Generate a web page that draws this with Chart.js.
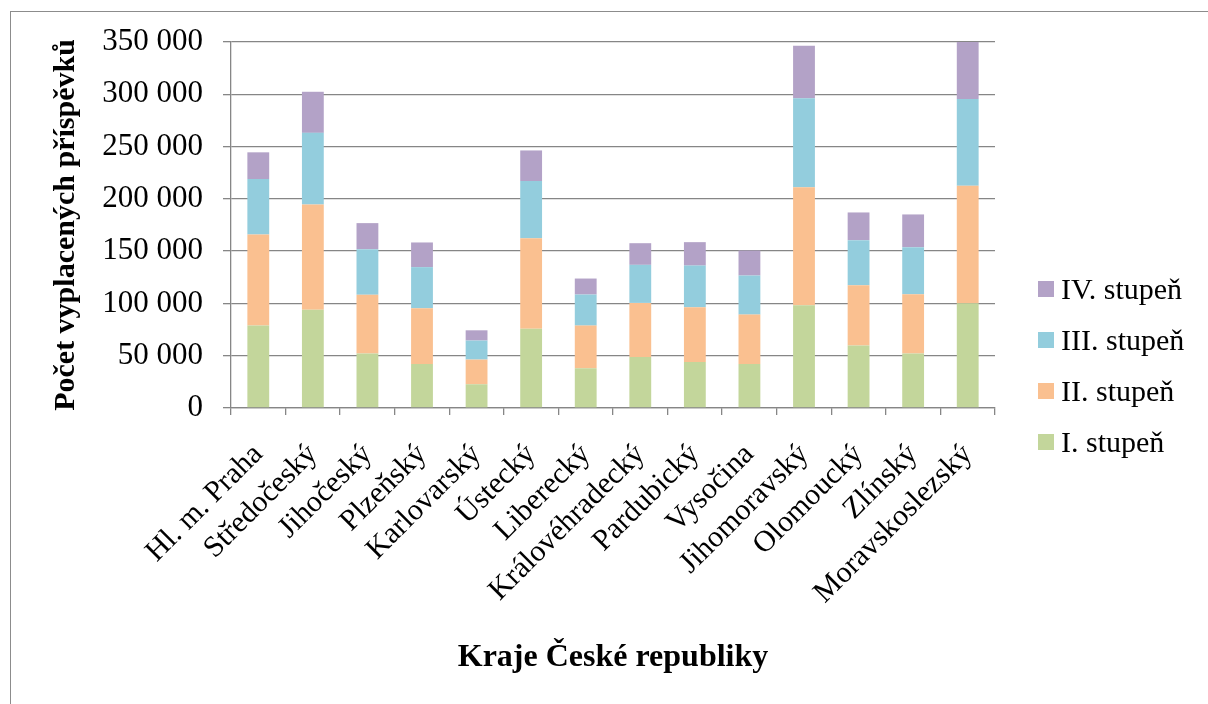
<!DOCTYPE html>
<html>
<head>
<meta charset="utf-8">
<script src="https://cdn.jsdelivr.net/npm/chart.js@4/dist/chart.umd.min.js"></script>
<style>
  html, body { margin: 0; padding: 0; background: #fff; }
  #wrap { position: relative; width: 1208px; height: 704px; overflow: hidden; }
  #frame { position: absolute; left: 10px; top: 11px; width: 1300px; height: 800px; border: 1px solid #8c8c8c; }
  #legend { position: absolute; left: 1038px; top: 263px; margin: 0; padding: 0; list-style: none;
            font-family: 'Times New Roman', 'Liberation Serif', serif; font-size: 30px; color: #000; }
  #legend li { display: flex; align-items: center; height: 51px; }
  #legend .sw { width: 16px; height: 16px; margin-right: 7px; }
</style>
</head>
<body>
<div id="wrap">
  <div id="frame"></div>
  <canvas id="chart" width="1208" height="704"></canvas>
  <ul id="legend"></ul>
</div>
<script>
// ── Data ────────────────────────────────────────────────────────────────────
const REGIONS = [
  'Hl. m. Praha', 'Středočeský', 'Jihočeský', 'Plzeňský', 'Karlovarský',
  'Ústecký', 'Liberecký', 'Královéhradecký', 'Pardubický', 'Vysočina',
  'Jihomoravský', 'Olomoucký', 'Zlínský', 'Moravskoslezský',
];
const STUPEN_I   = [79000, 94000, 52000, 42100, 22700, 75900, 38000, 48800, 44000, 42100, 98300, 59700, 52000, 100200];
const STUPEN_II  = [87000, 100500, 56200, 53300, 23600, 86500, 40800, 51700, 52400, 47200, 112900, 57700, 56800, 112300];
const STUPEN_III = [53000, 68600, 43700, 39300, 18200, 54600, 29700, 36400, 39800, 37400, 84900, 43100, 45000, 83000];
const STUPEN_IV  = [25500, 39300, 24900, 23600, 9800, 29300, 15300, 20700, 22400, 23900, 50400, 26500, 31300, 56000];
const Y_TICKS    = [0, 50000, 100000, 150000, 200000, 250000, 300000, 350000];

const SERIES = [
  { label: 'I. stupeň',   data: STUPEN_I,   color: '#c3d69b' },
  { label: 'II. stupeň',  data: STUPEN_II,  color: '#fac090' },
  { label: 'III. stupeň', data: STUPEN_III, color: '#93cddd' },
  { label: 'IV. stupeň',  data: STUPEN_IV,  color: '#b3a2c7' },
];

const SERIF = "'Times New Roman', 'Liberation Serif', serif";
const GRID  = '#868686';

function fmtThousands(v) {
  return String(v).replace(/\B(?=(\d{3})+(?!\d))/g, ' ');
}

// ── Chart ───────────────────────────────────────────────────────────────────
new Chart(document.getElementById('chart'), {
  type: 'bar',
  data: {
    labels: REGIONS,
    datasets: SERIES.map(s => ({
      label: s.label,
      data: s.data,
      backgroundColor: s.color,
      borderWidth: 0,
      barPercentage: 0.4,
      categoryPercentage: 1,
    })),
  },
  options: {
    responsive: false,
    animation: false,
    layout: { padding: { left: 48, right: 213, top: 42, bottom: 27 } },
    plugins: { legend: { display: false }, tooltip: { enabled: false } },
    scales: {
      x: {
        stacked: true,
        offset: true,
        afterFit: s => { s.height = 269; },
        grid: { display: true, drawOnChartArea: false, offset: true, color: GRID, tickColor: GRID, tickLength: 7, lineWidth: 1.3 },
        border: { color: GRID, width: 1.3 },
        ticks: { color: '#000', minRotation: 45, maxRotation: 45, autoSkip: false, padding: 22,
                 font: { family: SERIF, size: 30 } },
        title: { display: true, text: 'Kraje České republiky', color: '#000', padding: 0,
                 font: { family: SERIF, size: 32, weight: 'bold' } },
      },
      y: {
        stacked: true,
        min: 0,
        max: 350000,
        afterFit: s => { s.width = 231 - 48; },
        afterBuildTicks: s => { s.ticks = Y_TICKS.map(v => ({ value: v })); },
        grid: { color: GRID, tickColor: GRID, tickLength: 8, lineWidth: 1.3 },
        border: { color: GRID, width: 1.3 },
        ticks: { color: '#000', padding: 20, callback: v => fmtThousands(v),
                 font: { family: SERIF, size: 31 } },
        title: { display: true, text: 'Počet vyplacených příspěvků', color: '#000', padding: 0,
                 font: { family: SERIF, size: 30, weight: 'bold' } },
      },
    },
  },
});

// ── Legend (reversed, as in the original) ──────────────────────────────────
const legend = document.getElementById('legend');
[...SERIES].reverse().forEach(s => {
  const li = document.createElement('li');
  li.innerHTML = `<span class="sw" style="background:${s.color}"></span><span>${s.label}</span>`;
  legend.appendChild(li);
});
</script>
</body>
</html>
